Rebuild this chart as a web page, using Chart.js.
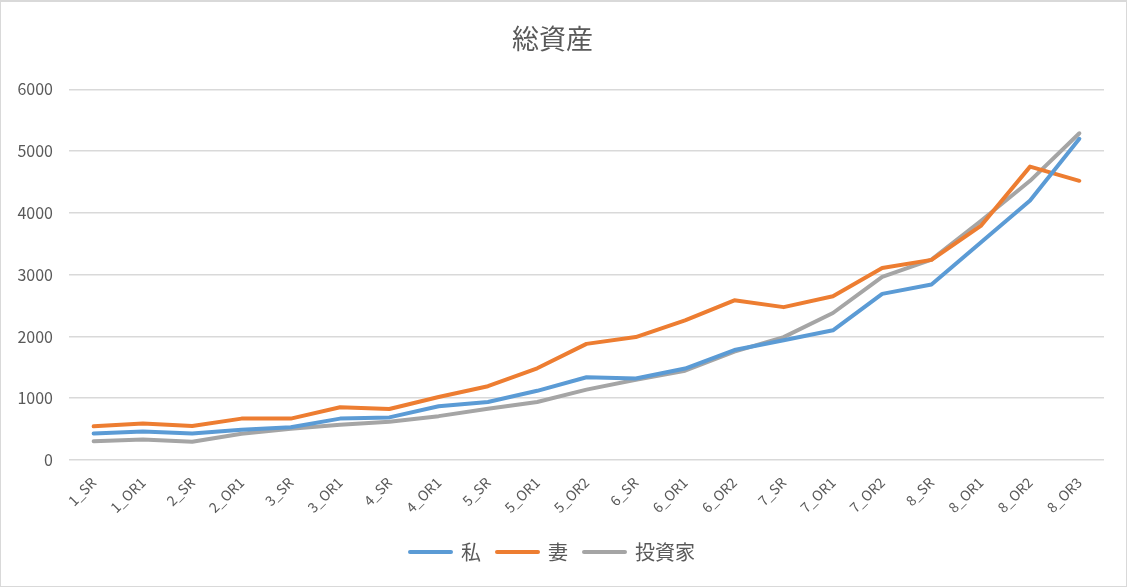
<!DOCTYPE html>
<html>
<head>
<meta charset="utf-8">
<script src="https://cdn.jsdelivr.net/npm/chart.js@4"></script>
<style>
  body { margin: 0; background: #fff; }
  #wrap { width: 1127px; height: 587px; box-sizing: border-box; border: 1px solid #d9d9d9; border-top-width: 2px; }
</style>
</head>
<body>
<div id="wrap"><canvas id="chart"></canvas></div>
<script>
// Labels along the x-axis
var rounds = ["1_SR","1_OR1","2_SR","2_OR1","3_SR","3_OR1","4_SR","4_OR1","5_SR","5_OR1","5_OR2",
              "6_SR","6_OR1","6_OR2","7_SR","7_OR1","7_OR2","8_SR","8_OR1","8_OR2","8_OR3"];
// Series values
var watashi = [430,460,430,490,530,670,690,870,940,1120,1340,1320,1480,1780,1940,2100,2690,2840,3520,4200,5200];
var tsuma = [545,590,550,670,670,855,825,1020,1195,1485,1880,1990,2260,2585,2475,2650,3110,3240,3790,4750,4520];
var toushika = [305,330,295,425,505,570,620,710,830,940,1140,1300,1445,1755,1990,2380,2965,3245,3870,4520,5290];
// y-axis ticks
var yMin = 0, yMax = 6000, yStep = 1000;

var font = "'Noto Sans CJK JP', 'Noto Sans', sans-serif";
var grey = "#595959";

function series(label, values, color) {
  return {
    data: values, label: label,
    borderColor: color, backgroundColor: color,
    pointBorderColor: color, pointBackgroundColor: color, pointBorderWidth: 4
  };
}

var ctx = document.getElementById("chart");
var chart = new Chart(ctx, {
  type: 'line',
  data: {
    labels: rounds,
    datasets: [
      series("私", watashi, "#5B9BD5"),
      series("妻", tsuma, "#ED7D31"),
      series("投資家", toushika, "#A5A5A5")
    ]
  },
  options: {
    responsive: true,
    maintainAspectRatio: false,
    animation: false,
    layout: { padding: { left: 0, right: 22, top: 0, bottom: 14 } },
    elements: {
      line: { borderWidth: 4, tension: 0, borderJoinStyle: 'round', borderCapStyle: 'round', fill: false },
      point: { radius: 0, hoverRadius: 0 }
    },
    plugins: {
      title: {
        display: true,
        text: "総資産",
        color: grey,
        font: { family: font, size: 27, weight: 'normal' },
        padding: { top: 21, bottom: 34 }
      },
      legend: {
        position: 'bottom',
        labels: {
          color: grey,
          font: { family: font, size: 20 },
          usePointStyle: true,
          pointStyle: 'line',
          pointStyleWidth: 41,
          boxHeight: 4,
          padding: 16,
          generateLabels: function (c) {
            var items = Chart.defaults.plugins.legend.labels.generateLabels(c);
            items.forEach(function (it) { it.lineCap = 'round'; it.lineWidth = 4; });
            return items;
          }
        }
      },
      tooltip: { enabled: false }
    },
    scales: {
      x: {
        offset: true,
        grid: { display: false },
        border: { display: false },
        ticks: { color: grey, font: { family: font, size: 14 }, minRotation: 45, maxRotation: 45, autoSkip: false, padding: 6 },
        afterFit: function (s) { s.height = 66; }
      },
      y: {
        min: yMin,
        max: yMax,
        ticks: {
          stepSize: yStep, color: grey, font: { family: font, size: 16 }, padding: 16,
          callback: function (v) { return String(v); }
        },
        grid: { color: "#d9d9d9", lineWidth: 1.5, drawTicks: false },
        border: { display: false },
        afterFit: function (s) { s.width = 68; }
      }
    }
  }
});
</script>
</body>
</html>
